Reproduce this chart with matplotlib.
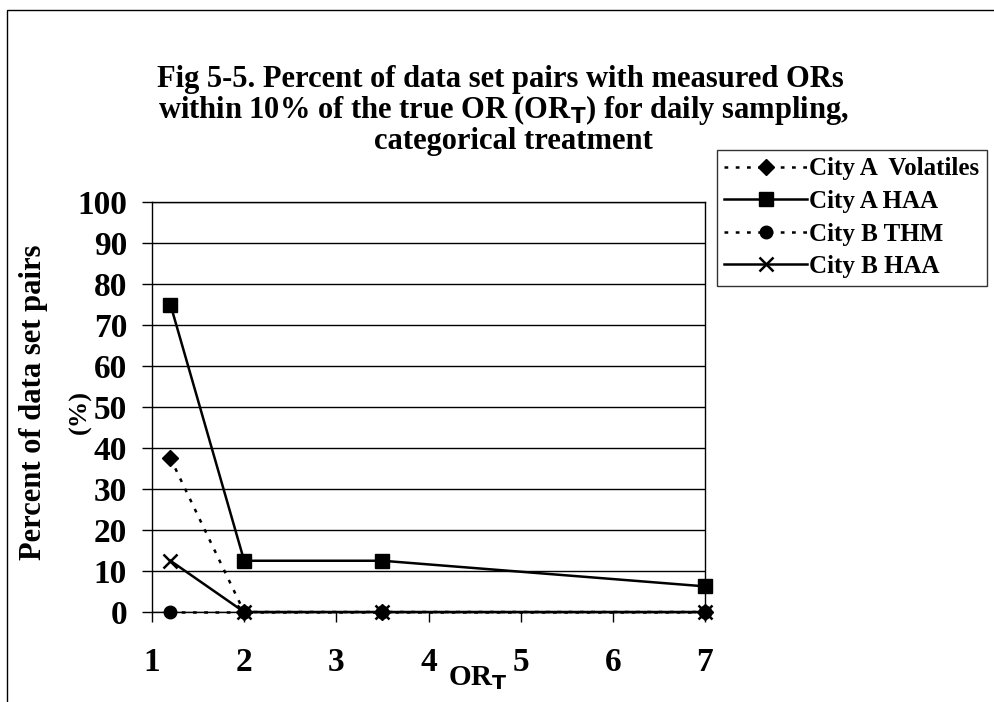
import matplotlib
matplotlib.use("Agg")
import matplotlib.pyplot as plt
from matplotlib.patches import Rectangle

plt.rcParams['font.family'] = ['Liberation Serif', 'DejaVu Serif']

or_t = [1.2, 2, 3.5, 7]
city_a_volatiles = [37.5, 0, 0, 0]
city_a_haa = [75, 12.5, 12.5, 6.25]
city_b_thm = [0, 0, 0, 0]
city_b_haa = [12.5, 0, 0, 0]

series = [
    ("City A  Volatiles", city_a_volatiles, (0, (1.5, 3)), 'D', 8, 4),
    ("City A HAA", city_a_haa, '-', 's', 10, 5),
    ("City B THM", city_b_thm, (0, (1.5, 3)), 'o', 9, 3),
    ("City B HAA", city_b_haa, '-', 'x', 10, 2),
]

fig = plt.figure(figsize=(9.95, 7.02), dpi=100)
fig.patches.append(Rectangle((7/995, -0.1), 1.2, 1.1 - 10/702, transform=fig.transFigure,
                             fill=False, edgecolor='black', linewidth=1.0))

ax = fig.add_axes([152/995, 1 - 612/702, 553/995, 410/702])
handles = []
for name, vals, ls, mk, ms, z in series:
    h, = ax.plot(or_t, vals, color='black', linestyle=ls, linewidth=1.8,
                 marker=mk, markersize=ms, markeredgewidth=1.8 if mk == 'x' else 1,
                 label=name, clip_on=False, zorder=z)
    handles.append(h)

ax.set_xlim(1, 7)
ax.set_ylim(0, 100)
ax.set_xticks(range(1, 8))
ax.set_yticks(range(0, 101, 10))
ax.yaxis.grid(True, color='black', linewidth=1.0)
ax.set_axisbelow(True)
ax.tick_params(axis='both', direction='out', length=7, width=1, colors='black',
               labelsize=24)
ax.tick_params(axis='y', pad=11)
ax.tick_params(axis='x', pad=18)
for lbl in ax.get_xticklabels() + ax.get_yticklabels():
    lbl.set_fontweight('bold')
for sp in ax.spines.values():
    sp.set_linewidth(1.0)
    sp.set_color('black')

fig.text(34/995, 1 - 402/702, "Percent of data set pairs", rotation=90, ha='center', va='center',
         fontsize=22, fontweight='bold')
fig.text(80/995, 1 - 412/702, "(%)", rotation=90, ha='center', va='center',
         fontsize=19, fontweight='bold')
fig.text(478/995, 1 - 678/702, r"OR$_{\mathbf{T}}$", ha='center', va='center',
         fontsize=21, fontweight='bold')

title_lines = [
    (80, 500, "Fig 5-5. Percent of data set pairs with measured ORs"),
    (110, 503, r"within 10% of the true OR (OR$_{\mathbf{T}}$) for daily sampling,"),
    (141, 513, "categorical treatment"),
]
for y, x, t in title_lines:
    fig.text(x/995, 1 - y/702, t, ha='center', va='center', fontsize=22, fontweight='bold')

leg = fig.legend(handles=handles, loc='upper left', bbox_to_anchor=(717/995, 1 - 150/702),
                 frameon=True, fancybox=False, edgecolor='black',
                 prop={'size': 18, 'weight': 'bold'},
                 handlelength=3.3, handletextpad=0.1, labelspacing=0.38, borderpad=0.3,
                 borderaxespad=0)
leg.get_frame().set_linewidth(1.0)

fig.savefig("out.png", dpi=100)
